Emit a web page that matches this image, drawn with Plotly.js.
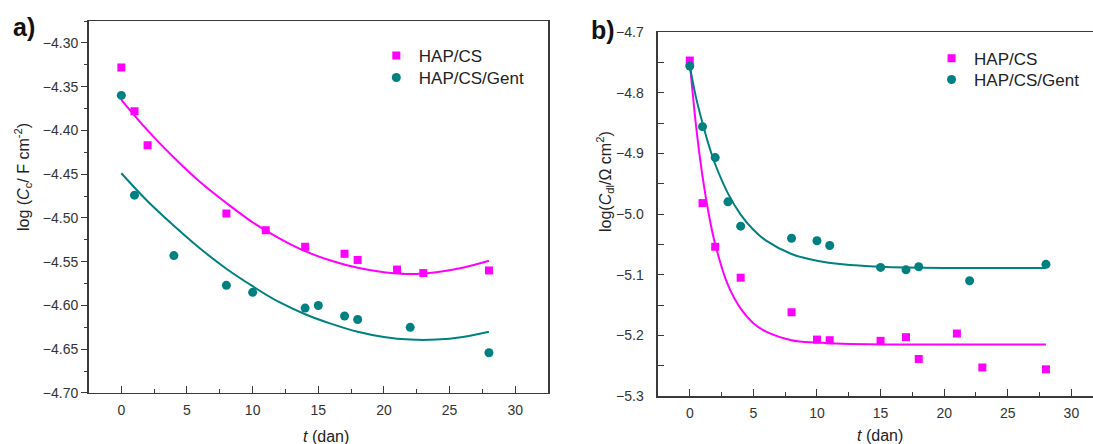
<!DOCTYPE html>
<html>
<head>
<meta charset="utf-8">
<script src="https://cdn.plot.ly/plotly-3.0.1.min.js"></script>
<style>html,body{margin:0;padding:0;background:#fff;}#chart{width:1093px;height:444px;}</style>
</head>
<body>
<div id="chart"></div>
<script>
// ---- Panel a) data ----
const a_cs_t = [0, 1, 2, 8, 11, 14, 17, 18, 21, 23, 28];
const a_cs_val = [-4.328, -4.378, -4.417, -4.495, -4.514, -4.533, -4.541, -4.548, -4.559, -4.563, -4.560];
const a_gent_t = [0, 1, 4, 8, 10, 14, 15, 17, 18, 22, 28];
const a_gent_val = [-4.360, -4.474, -4.543, -4.577, -4.585, -4.603, -4.600, -4.612, -4.616, -4.625, -4.654];
const a_fit_t = [0, 2, 4, 6, 8, 10, 12, 14, 16, 18, 20, 22, 24, 26, 28];
const a_cs_fit = [-4.365, -4.400, -4.431, -4.459, -4.483, -4.505, -4.523, -4.538, -4.549, -4.557, -4.562, -4.564, -4.562, -4.557, -4.549];
const a_gent_fit = [-4.449, -4.481, -4.509, -4.535, -4.558, -4.578, -4.596, -4.610, -4.621, -4.630, -4.636, -4.639, -4.639, -4.636, -4.630];

// ---- Panel b) data ----
const b_cs_t = [0, 1, 2, 4, 8, 10, 11, 15, 17, 18, 21, 23, 28];
const b_cs_val = [-4.747, -4.982, -5.054, -5.105, -5.162, -5.207, -5.208, -5.209, -5.203, -5.239, -5.197, -5.253, -5.256];
const b_gent_t = [0, 1, 2, 3, 4, 8, 10, 11, 15, 17, 18, 22, 28];
const b_gent_val = [-4.756, -4.856, -4.907, -4.980, -5.020, -5.040, -5.044, -5.052, -5.088, -5.092, -5.087, -5.110, -5.083];
const b_fit_t = [0, 0.5, 1, 1.5, 2, 3, 4, 5, 6, 8, 10, 12, 15, 20, 25, 28];
const b_cs_fit = [-4.750, -4.856, -4.938, -5.001, -5.050, -5.117, -5.156, -5.180, -5.194, -5.208, -5.212, -5.214, -5.215, -5.215, -5.215, -5.215];
const b_gent_fit = [-4.756, -4.809, -4.850, -4.887, -4.918, -4.966, -5.001, -5.026, -5.044, -5.066, -5.077, -5.083, -5.087, -5.089, -5.089, -5.089];

const seriesNames = ['HAP/CS', 'HAP/CS/Gent'];
const PINK = '#ff00ff', TEAL = '#008080';
const FONT = 'Arial, "Liberation Sans", sans-serif';

const traces = [
  {x: a_fit_t, y: a_cs_fit, xaxis: 'x', yaxis: 'y', mode: 'lines', line: {color: PINK, width: 2, shape: 'spline'}, showlegend: false, hoverinfo: 'skip'},
  {x: a_fit_t, y: a_gent_fit, xaxis: 'x', yaxis: 'y', mode: 'lines', line: {color: TEAL, width: 2, shape: 'spline'}, showlegend: false, hoverinfo: 'skip'},
  {x: a_cs_t, y: a_cs_val, xaxis: 'x', yaxis: 'y', mode: 'markers', name: seriesNames[0], marker: {symbol: 'square', size: 8, color: PINK}, legend: 'legend'},
  {x: a_gent_t, y: a_gent_val, xaxis: 'x', yaxis: 'y', mode: 'markers', name: seriesNames[1], marker: {symbol: 'circle', size: 9, color: TEAL}, legend: 'legend2'},
  {x: b_fit_t, y: b_cs_fit, xaxis: 'x2', yaxis: 'y2', mode: 'lines', line: {color: PINK, width: 2, shape: 'spline'}, showlegend: false, hoverinfo: 'skip'},
  {x: b_fit_t, y: b_gent_fit, xaxis: 'x2', yaxis: 'y2', mode: 'lines', line: {color: TEAL, width: 2, shape: 'spline'}, showlegend: false, hoverinfo: 'skip'},
  {x: b_cs_t, y: b_cs_val, xaxis: 'x2', yaxis: 'y2', mode: 'markers', name: seriesNames[0], marker: {symbol: 'square', size: 8, color: PINK}, legend: 'legend3'},
  {x: b_gent_t, y: b_gent_val, xaxis: 'x2', yaxis: 'y2', mode: 'markers', name: seriesNames[1], marker: {symbol: 'circle', size: 9, color: TEAL}, legend: 'legend4'}
];

const axisBase = {
  showgrid: false, zeroline: false, showline: true, linecolor: '#3a3a3a', linewidth: 1.5,
  tickcolor: '#3a3a3a', tickwidth: 1, tickfont: {family: FONT, size: 14, color: '#333'}
};

function legendAt(x, y) {
  return {x: x, y: y, xanchor: 'left', yanchor: 'top', bgcolor: 'rgba(0,0,0,0)', itemwidth: 35,
    font: {family: FONT, size: 17, color: '#222'}, tracegroupgap: 0};
}

const layout = {
  width: 1093, height: 444,
  margin: {l: 0, r: 0, t: 0, b: 0},
  paper_bgcolor: '#fff', plot_bgcolor: '#fff',
  font: {family: FONT, color: '#222'},
  xaxis: Object.assign({}, axisBase, {
    domain: [0.081, 0.5014], range: [-2.5, 32.5], anchor: 'y',
    tickmode: 'linear', tick0: 0, dtick: 5, ticks: 'inside', ticklen: 7, mirror: true,
    minor: {ticks: 'inside', ticklen: 4, dtick: 2.5, tick0: 0, tickcolor: '#3a3a3a'},
    ticklabelstandoff: 4
  }),
  yaxis: Object.assign({}, axisBase, {
    domain: [0.1149, 0.9527], range: [-4.70, -4.275], anchor: 'x',
    tickmode: 'linear', tick0: -4.70, dtick: 0.05, tickformat: '.2f', ticks: 'outside', ticklen: 6, mirror: true,
    minor: {ticks: 'outside', ticklen: 3, dtick: 0.025, tick0: -4.70, tickcolor: '#3a3a3a'}
  }),
  xaxis2: Object.assign({}, axisBase, {
    domain: [0.602, 1.0], range: [-2.5, 31.7], anchor: 'y2',
    tickmode: 'linear', tick0: 0, dtick: 5, ticks: 'inside', ticklen: 7, mirror: true,
    minor: {ticks: 'inside', ticklen: 4, dtick: 2.5, tick0: 0, tickcolor: '#3a3a3a'},
    ticklabelstandoff: 4
  }),
  yaxis2: Object.assign({}, axisBase, {
    domain: [0.1081, 0.9279], range: [-5.3, -4.7], anchor: 'x2',
    tickmode: 'linear', tick0: -5.3, dtick: 0.1, tickformat: '.1f', ticks: 'inside', ticklen: 6, mirror: false,
    minor: {ticks: 'inside', ticklen: 6, dtick: 0.05, tick0: -5.3, tickcolor: '#3a3a3a'},
    ticklabelstandoff: 10
  }),
  legend: legendAt(0.342, 0.9144),
  legend2: legendAt(0.342, 0.8649),
  legend3: legendAt(0.850, 0.9083),
  legend4: legendAt(0.850, 0.8604),
  annotations: [
    {text: '<b>a)</b>', xref: 'paper', yref: 'paper', x: 24/1093, y: 1 - 27/444, xanchor: 'center', yanchor: 'middle', showarrow: false, font: {family: FONT, size: 25, color: '#111'}},
    {text: '<b>b)</b>', xref: 'paper', yref: 'paper', x: 603/1093, y: 1 - 30/444, xanchor: 'center', yanchor: 'middle', showarrow: false, font: {family: FONT, size: 25, color: '#111'}},
    {text: 'log (<i>C</i><sub>c</sub>/ F cm<sup>-2</sup>)', xref: 'paper', yref: 'paper', x: 23/1093, y: 1 - 177/444, xanchor: 'center', yanchor: 'middle', textangle: -90, showarrow: false, font: {family: FONT, size: 16, color: '#222'}},
    {text: 'log(<i>C</i><sub>dl</sub>/Ω cm<sup>2</sup>)', xref: 'paper', yref: 'paper', x: 605/1093, y: 1 - 182/444, xanchor: 'center', yanchor: 'middle', textangle: -90, showarrow: false, font: {family: FONT, size: 16, color: '#222'}},
    {text: '<i>t</i> (dan)', xref: 'paper', yref: 'paper', x: 326/1093, y: 1 - 436/444, xanchor: 'center', yanchor: 'middle', showarrow: false, font: {family: FONT, size: 16, color: '#222'}},
    {text: '<i>t</i> (dan)', xref: 'paper', yref: 'paper', x: 880/1093, y: 1 - 435/444, xanchor: 'center', yanchor: 'middle', showarrow: false, font: {family: FONT, size: 16, color: '#222'}}
  ]
};

Plotly.newPlot('chart', traces, layout, {staticPlot: true, displayModeBar: false});
</script>
</body>
</html>
